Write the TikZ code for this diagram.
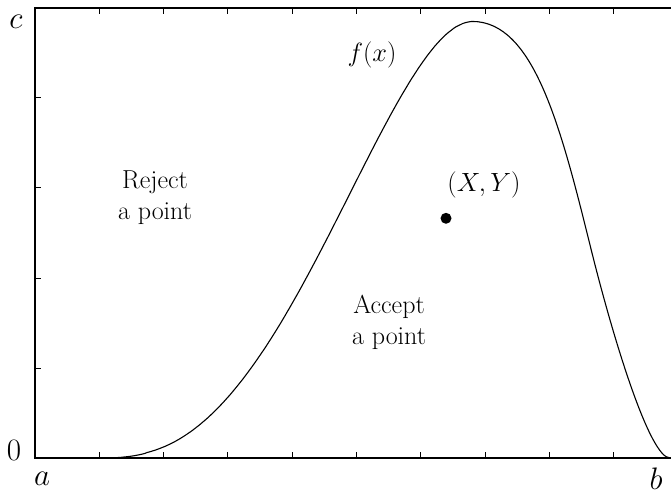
\documentclass[tikz,border=0pt]{standalone}
\usepackage{graphicx}
\usepackage{tikz}
\begin{document}
\begin{tikzpicture}[x=1pt,y=-1pt,
  lbl/.style={inner sep=0pt,font=\fontsize{26}{31}\selectfont,align=center},
  axis/.style={line width=1.5pt},
  tick/.style={line width=1pt},
  curve/.style={line width=1.1pt,line join=round}]
\useasboundingbox (0,0) rectangle (671,494);
% frame
\draw[axis,line width=2pt] (35,458) -- (35,7);
\draw[axis] (34,8) -- (671,8);
\draw[axis] (34,458) -- (671,458);
% ticks
\foreach \k in {1,...,9}{
  \draw[tick] ({35+64.3*\k},458) -- ++(0,-6);
  \draw[tick] ({35+64.3*\k},8) -- ++(0,6);
}
\foreach \yy in {98,188,278,368}{
  \draw[tick] (35,\yy) -- ++(6,0);
}
% curve f(x)
\coordinate (start) at (99,458);
\coordinate (peak) at (473,21.4);
\coordinate (infl) at (590,245);
\coordinate (end) at (670,458);
\draw[curve] (start) -- plot[domain=0.003:1,samples=160]
  ({99+374*\x},{458-436.6*pow(\x,2.65)*pow((1-0.8*\x)/0.2,0.6625)})
  .. controls (533,21.4) and (560,123.5) .. (infl)
  .. controls (614,342.2) and (650,458) .. (end);
% labels
\node[lbl] (c) at (16,22) {\scalebox{1.25}{$c$}};
\node[lbl] (zero) at (14,450) {\scalebox{1.25}{$0$}};
\node[lbl] (a) at (42,479) {\scalebox{1.25}{$a$}};
\node[lbl] (b) at (656,479) {\scalebox{1.25}{$b$}};
\node[lbl] (fx) at (372,55) {\scalebox{1.06}{$f(x)$}};
\node[lbl] (rej) at (155,198) {Reject\\a point};
\node[lbl] (acc) at (389,322) {Accept\\a point};
\node[lbl] (XY) at (484,185) {\scalebox{1.06}{$(X,Y)$}};
\fill (446,218.3) circle (5.5) coordinate (pt);
\end{tikzpicture}
\end{document}
